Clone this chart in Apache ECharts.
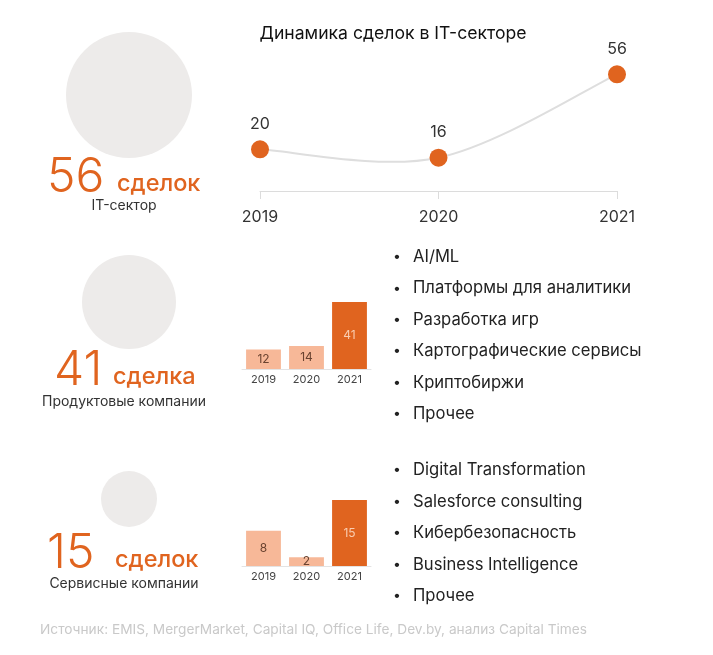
<!DOCTYPE html>
<html>
<head>
<meta charset="utf-8">
<script src="https://cdn.jsdelivr.net/npm/echarts@6/dist/echarts.min.js"></script>
<style>
  html, body { margin: 0; padding: 0; background: #fff; }
  #chart { width: 713px; height: 655px; }
</style>
</head>
<body>
<div id="chart"></div>
<script>
// data
const years = ['2019', '2020', '2021'];
const itDeals = [20, 16, 56];
const productDeals = [12, 14, 41];
const serviceDeals = [8, 2, 15];
const totalDeals = [56, 41, 15];
const dealWords = ['сделок', 'сделка', 'сделок'];
const segmentNames = ['IT-сектор', 'Продуктовые компании', 'Сервисные компании'];
const productAreas = ['AI/ML', 'Платформы для аналитики', 'Разработка игр', 'Картографические сервисы', 'Криптобиржи', 'Прочее'];
const serviceAreas = ['Digital Transformation', 'Salesforce consulting', 'Кибербезопасность', 'Business Intelligence', 'Прочее'];
const sourceText = 'Источник: EMIS, MergerMarket, Capital IQ, Office Life, Dev.by, анализ Capital Times';

const FONT = 'Inter';
const ORANGE = '#e0641f';
const PEACH = '#f7b898';
const GREY_CIRCLE = '#edebea';

const chart = echarts.init(document.getElementById('chart'));

// left block: circle + big number + caption for each row (base = text baseline)
const rowLayout = [
  { cy: 95, r: 63, numX: 47, wordX: 117, base: 192, subY: 206 },
  { cy: 302, r: 47, numX: 54, wordX: 113, base: 385, subY: 402 },
  { cy: 499, r: 28, numX: 47, wordX: 115, base: 568, subY: 584 }
];
const NUM_SIZE = 48;
const WORD_SIZE = 23.5;

const graphics = [];
rowLayout.forEach((row, i) => {
  graphics.push({
    type: 'circle', shape: { cx: 129, cy: row.cy, r: row.r },
    style: { fill: GREY_CIRCLE }, silent: true
  });
  graphics.push({
    type: 'text', x: row.numX, y: row.base - NUM_SIZE * 0.3,
    style: { text: String(totalDeals[i]), fontFamily: FONT, fontSize: NUM_SIZE, fontWeight: 300, fill: ORANGE, verticalAlign: 'middle' }
  });
  graphics.push({
    type: 'text', x: row.wordX, y: row.base - WORD_SIZE * 0.36,
    style: { text: dealWords[i], fontFamily: FONT, fontSize: WORD_SIZE, fontWeight: 500, fill: ORANGE, verticalAlign: 'middle' }
  });
  graphics.push({
    type: 'text', x: 124, y: row.subY,
    style: { text: segmentNames[i], fontFamily: FONT, fontSize: 14, fill: '#333', align: 'center', verticalAlign: 'middle' }
  });
});

// bullet lists
function bullets(list, y0, step) {
  list.forEach((t, i) => {
    graphics.push({
      type: 'text', x: 393, y: y0 + i * step,
      style: { text: '•', fontFamily: FONT, fontSize: 14, fill: '#222', verticalAlign: 'middle' }
    });
    graphics.push({
      type: 'text', x: 413, y: y0 + i * step,
      style: { text: t, fontFamily: FONT, fontSize: 16.6, fill: '#222', verticalAlign: 'middle' }
    });
  });
}
bullets(productAreas, 257, 31.4);
bullets(serviceAreas, 470, 31.5);

graphics.push({
  type: 'text', x: 40, y: 630,
  style: { text: sourceText, fontFamily: FONT, fontSize: 13.7, fill: '#c9c9c9', verticalAlign: 'middle' }
});

const smallXAxis = (gi) => ({
  type: 'category', gridIndex: gi, data: years,
  axisLine: { lineStyle: { color: '#e3e3e3' } },
  axisTick: { show: false },
  axisLabel: { color: '#444', fontFamily: FONT, fontSize: 11, margin: 5 }
});
const smallYAxis = (gi) => ({
  type: 'value', gridIndex: gi, min: 0, max: 'dataMax', show: false
});
const barData = (vals) => vals.map((v, i) => ({
  value: v,
  itemStyle: { color: i === vals.length - 1 ? ORANGE : PEACH },
  label: { color: i === vals.length - 1 ? '#f9cdb0' : '#6a4330' }
}));

// catmull-rom curve through the points, drawn as one path
function renderCurve(params, api) {
  const pts = itDeals.map((v, i) => api.coord([i, v]));
  let d = 'M' + pts[0][0] + ',' + pts[0][1];
  for (let i = 0; i < pts.length - 1; i++) {
    const p0 = pts[Math.max(i - 1, 0)];
    const p1 = pts[i];
    const p2 = pts[i + 1];
    const p3 = pts[Math.min(i + 2, pts.length - 1)];
    const c1 = [p1[0] + (p2[0] - p0[0]) / 6, p1[1] + (p2[1] - p0[1]) / 6];
    const c2 = [p2[0] - (p3[0] - p1[0]) / 6, p2[1] - (p3[1] - p1[1]) / 6];
    d += ' C' + c1[0] + ',' + c1[1] + ' ' + c2[0] + ',' + c2[1] + ' ' + p2[0] + ',' + p2[1];
  }
  return {
    type: 'path',
    shape: { pathData: d },
    style: { fill: 'none', stroke: '#dedede', lineWidth: 2 }
  };
}

const option = {
  animation: false,
  backgroundColor: '#fff',
  title: {
    text: 'Динамика сделок в IT-секторе',
    left: 388, top: 20, textAlign: 'center',
    textStyle: { fontFamily: FONT, fontSize: 17.6, fontWeight: 'normal', color: '#111' }
  },
  grid: [
    { left: 260, width: 357, top: 66, height: 125 },
    { left: 242, width: 129, top: 302, height: 67 },
    { left: 242, width: 129, top: 500, height: 66 }
  ],
  xAxis: [
    {
      type: 'category', gridIndex: 0, data: years, boundaryGap: false,
      axisLine: { lineStyle: { color: '#dcdcdc' } },
      axisTick: { show: true, length: 8, lineStyle: { color: '#dcdcdc' } },
      axisLabel: { color: '#333', fontFamily: FONT, fontSize: 16, margin: 18 }
    },
    smallXAxis(1),
    smallXAxis(2)
  ],
  yAxis: [
    { type: 'value', gridIndex: 0, min: 0, max: 60, show: false },
    smallYAxis(1),
    smallYAxis(2)
  ],
  series: [
    {
      type: 'custom', xAxisIndex: 0, yAxisIndex: 0, z: 1,
      data: [[0, itDeals[0]]],
      renderItem: renderCurve,
      silent: true
    },
    {
      type: 'line', xAxisIndex: 0, yAxisIndex: 0, data: itDeals, z: 3,
      lineStyle: { opacity: 0 },
      symbol: 'circle', symbolSize: 18,
      itemStyle: { color: ORANGE },
      label: { show: true, position: 'top', distance: 8, color: '#333', fontFamily: FONT, fontSize: 16 }
    },
    {
      type: 'bar', xAxisIndex: 1, yAxisIndex: 1, data: barData(productDeals),
      barCategoryGap: '19%',
      label: { show: true, position: 'inside', fontFamily: FONT, fontSize: 12 }
    },
    {
      type: 'bar', xAxisIndex: 2, yAxisIndex: 2, data: barData(serviceDeals),
      barCategoryGap: '19%',
      label: { show: true, position: 'inside', fontFamily: FONT, fontSize: 12 }
    }
  ],
  graphic: graphics
};

chart.setOption(option);
</script>
</body>
</html>
